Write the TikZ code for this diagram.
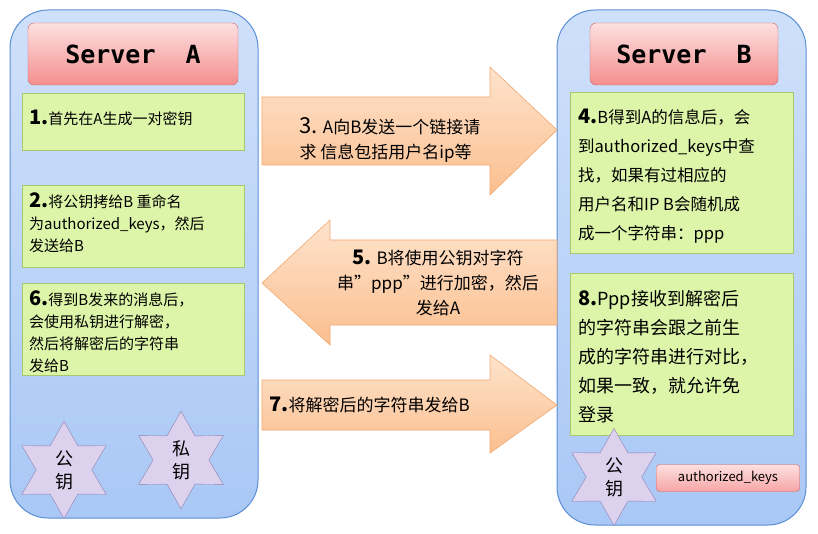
\documentclass[tikz,border=0pt]{standalone}
\usepackage{fontspec}
\setmainfont{Noto Sans CJK SC}
\newfontfamily\monof{DejaVu Sans Mono}
\usetikzlibrary{shapes.geometric}
\newcommand\nbx[1]{{\bfseries\fontsize{20}{22}\selectfont #1}}
\definecolor{panelc}{HTML}{A9C8F5}
\definecolor{panelt}{HTML}{CFE0FA}
\definecolor{paneld}{HTML}{5B8FD6}
\definecolor{greenc}{HTML}{DDF5A8}
\definecolor{greend}{HTML}{A8C870}
\definecolor{pinkt}{HTML}{FDE0E0}
\definecolor{pinkb}{HTML}{F58E8E}
\definecolor{pinkd}{HTML}{D06060}
\definecolor{orat}{HTML}{FEE3CC}
\definecolor{orab}{HTML}{FBBF8F}
\definecolor{orad}{HTML}{F0A870}
\definecolor{starc}{HTML}{DCD2EE}
\definecolor{stard}{HTML}{9080B0}
\tikzset{
 panel/.style={draw=paneld,line width=1pt,rounded corners=38pt,top color=panelt,bottom color=panelc},
 title/.style={draw=pinkd,rounded corners=6pt,top color=pinkt,bottom color=pinkb,font=\monof\bfseries\fontsize{25}{28}\selectfont},
 gbox/.style={draw=greend,fill=greenc,anchor=north west,inner sep=0pt},
 gtext/.style={anchor=north west,align=left,font=\fontsize{15}{22}\selectfont,inner sep=0pt},
 arr/.style={draw=orad,top color=orat,bottom color=orab,line width=0.6pt},
 atext/.style={align=left,font=\fontsize{17}{25}\selectfont},
 keystar/.style={star,star points=6,star point ratio=1.75,minimum size=92pt,draw=stard,fill=starc,align=center,font=\fontsize{18}{23}\selectfont,inner sep=0pt}
}
\begin{document}
\begin{tikzpicture}[x=1pt,y=-1pt]
\useasboundingbox (0,0) rectangle (818,534);
% panels
\path[panel] (10,10) rectangle (258,518);
\path[panel] (557,10) rectangle (806,525);
\node[title,minimum width=210pt,minimum height=62pt] (ta) at (133,54) {Server\ \ A};
\node[title,minimum width=188pt,minimum height=62pt] (tb) at (684,54) {Server\ \ B};
% green boxes
\node[gbox,minimum width=222pt,minimum height=57pt] (b1) at (22,93) {};
\node[gtext] at (29,110) {\nbx{1.}首先在A生成一对密钥};
\node[gbox,minimum width=222pt,minimum height=82pt] (b2) at (22,185) {};
\node[gtext] at (29,193) {\nbx{2.}将公钥拷给B 重命名\\为authorized\_keys，然后\\发送给B};
\node[gbox,minimum width=222pt,minimum height=92pt] (b6) at (22,283) {};
\node[gtext] at (29,290) {\nbx{6.}得到B发来的消息后，\\会使用私钥进行解密，\\然后将解密后的字符串\\发给B};
\node[gbox,minimum width=223pt,minimum height=161pt] (b4) at (570,92) {};
\node[gtext,font=\fontsize{16.5}{29}\selectfont] at (578,109) {\nbx{4.}B得到A的信息后，会\\到authorized\_keys中查\\找，如果有过相应的\\用户名和IP B会随机成\\成一个字符串：ppp};
\node[gbox,minimum width=223pt,minimum height=162pt] (b8) at (570,273) {};
\node[gtext,font=\fontsize{18}{29}\selectfont] at (578,290) {\nbx{8.}Ppp接收到解密后\\的字符串会跟之前生\\成的字符串进行对比，\\如果一致，就允许免\\登录};
% arrows
\path[arr] (262,97) -- (490,97) -- (490,67) -- (557,130) -- (490,195) -- (490,165) -- (262,165) -- cycle;
\node[atext] (a3) at (390,140) {{\fontsize{22}{24}\selectfont 3.} A向B发送一个链接请\\求 信息包括用户名ip等};
\path[arr] (557,240) -- (330,240) -- (330,220) -- (262,283) -- (330,345) -- (330,325) -- (557,325) -- cycle;
\node[atext,align=center] (a5) at (438,283) {\nbx{5.} B将使用公钥对字符\\串”ppp”进行加密，然后\\发给A};
\path[arr] (262,380) -- (490,380) -- (490,355) -- (557,405) -- (490,453) -- (490,430) -- (262,430) -- cycle;
\node[atext,anchor=west] (a7) at (266,405) {\nbx{7.}将解密后的字符串发给B};
% keys
\node[keystar] (pa) at (64,470) {公\\钥};
\node[keystar] (sa) at (181,460) {私\\钥};
\node[keystar] (pb) at (614,477) {公\\钥};
\node[draw=pinkd,rounded corners=3pt,top color=pinkt,bottom color=pinkb!80,minimum width=143pt,minimum height=27pt,font=\fontsize{13}{15}\selectfont] (ak) at (728,478) {authorized\_keys};
\end{tikzpicture}
\end{document}
